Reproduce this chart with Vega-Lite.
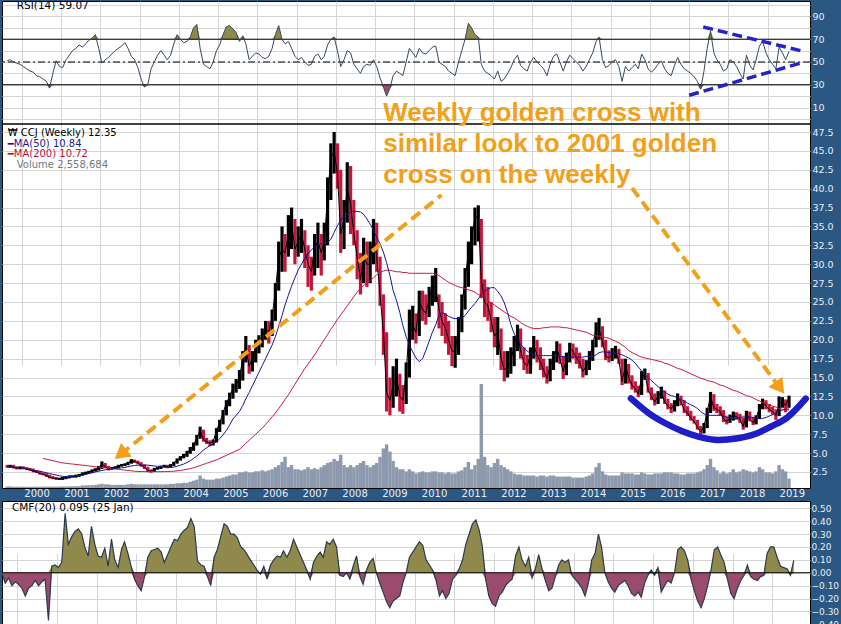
{
"$schema": "https://vega.github.io/schema/vega-lite/v6.json",
"padding": 0,
"background": "#2b5783",
"spacing": 13,
"bounds": "flush",
"config": {
  "view": {"fill": "#ffffff", "stroke": "#000000", "strokeWidth": 1},
  "axis": {"domain": false, "ticks": false, "gridColor": "#d5d5d5", "gridWidth": 1, "labelFont": "DejaVu Sans", "labelFontSize": 9.5, "labelColor": "#e9eef5"},
  "text": {"font": "DejaVu Sans"}
},
"datasets": {
"m": [
{"d":"1999-02-15","o":3.3,"c":3.2,"h":3.45,"l":3.05,"ma50":3.2,"vol":1.5,"rsi":51,"cmf":-0.01},
{"d":"1999-03-15","o":3.2,"c":3.3,"h":3.45,"l":3.05,"ma50":3.2,"vol":1.5,"rsi":52,"cmf":-0.08},
{"d":"1999-04-15","o":3.3,"c":3.1,"h":3.45,"l":2.95,"ma50":3.15,"vol":1.3,"rsi":50,"cmf":-0.04},
{"d":"1999-05-15","o":3.1,"c":3.0,"h":3.25,"l":2.85,"ma50":3.1,"vol":1.3,"rsi":49,"cmf":-0.1},
{"d":"1999-06-15","o":3.0,"c":3.1,"h":3.25,"l":2.85,"ma50":3.05,"vol":1.2,"rsi":48,"cmf":-0.07},
{"d":"1999-07-15","o":3.1,"c":3.0,"h":3.25,"l":2.85,"ma50":3.0,"vol":1.2,"rsi":46,"cmf":-0.09},
{"d":"1999-08-15","o":3.0,"c":2.9,"h":3.15,"l":2.75,"ma50":2.95,"vol":1.2,"rsi":44,"cmf":-0.12},
{"d":"1999-09-15","o":2.9,"c":2.8,"h":3.05,"l":2.65,"ma50":2.85,"vol":1.2,"rsi":42,"cmf":-0.18},
{"d":"1999-10-15","o":2.8,"c":2.6,"h":2.95,"l":2.45,"ma50":2.75,"vol":1.2,"rsi":41,"cmf":-0.12},
{"d":"1999-11-15","o":2.6,"c":2.5,"h":2.75,"l":2.35,"ma50":2.65,"vol":1.2,"rsi":38,"cmf":-0.1},
{"d":"1999-12-15","o":2.5,"c":2.3,"h":2.65,"l":2.15,"ma50":2.6,"vol":1.3,"rsi":37,"cmf":-0.06},
{"d":"2000-01-15","o":2.3,"c":2.2,"h":2.45,"l":2.05,"ma50":2.5,"ma200":4.3,"vol":1.3,"rsi":35,"cmf":-0.1},
{"d":"2000-02-15","o":2.2,"c":2.0,"h":2.35,"l":1.85,"ma50":2.4,"ma200":4.2,"vol":1.3,"rsi":33,"cmf":-0.07},
{"d":"2000-03-15","o":2.0,"c":1.8,"h":2.15,"l":1.65,"ma50":2.3,"ma200":4.1,"vol":1.3,"rsi":27,"cmf":-0.05},
{"d":"2000-04-15","o":1.8,"c":1.7,"h":1.95,"l":1.55,"ma50":2.2,"ma200":4.0,"vol":1.4,"rsi":40,"cmf":-0.37},
{"d":"2000-05-15","o":1.7,"c":1.6,"h":1.85,"l":1.45,"ma50":2.1,"ma200":3.9,"vol":1.4,"rsi":51,"cmf":0.05},
{"d":"2000-06-15","o":1.6,"c":1.6,"h":1.75,"l":1.45,"ma50":2.0,"ma200":3.8,"vol":1.4,"rsi":46,"cmf":0.06},
{"d":"2000-07-15","o":1.6,"c":1.7,"h":1.85,"l":1.45,"ma50":1.92,"ma200":3.7,"vol":1.5,"rsi":45,"cmf":0.04},
{"d":"2000-08-15","o":1.7,"c":1.8,"h":1.95,"l":1.55,"ma50":1.9,"ma200":3.65,"vol":1.5,"rsi":52,"cmf":0.08},
{"d":"2000-09-15","o":1.8,"c":1.9,"h":2.05,"l":1.65,"ma50":1.92,"ma200":3.6,"vol":1.6,"rsi":56,"cmf":0.46},
{"d":"2000-10-15","o":1.9,"c":1.9,"h":2.05,"l":1.75,"ma50":1.95,"ma200":3.55,"vol":1.6,"rsi":60,"cmf":0.22},
{"d":"2000-11-15","o":1.9,"c":2.0,"h":2.15,"l":1.75,"ma50":2.0,"ma200":3.5,"vol":1.7,"rsi":62,"cmf":0.28},
{"d":"2000-12-15","o":2.0,"c":2.1,"h":2.25,"l":1.85,"ma50":2.05,"ma200":3.45,"vol":1.8,"rsi":65,"cmf":0.32},
{"d":"2001-01-15","o":2.1,"c":2.3,"h":2.45,"l":2.0,"ma50":2.1,"ma200":3.4,"vol":2.5,"rsi":63,"cmf":0.34},
{"d":"2001-02-15","o":2.3,"c":2.4,"h":2.55,"l":2.15,"ma50":2.2,"ma200":3.35,"vol":2.5,"rsi":66,"cmf":0.3},
{"d":"2001-03-15","o":2.4,"c":2.5,"h":2.65,"l":2.25,"ma50":2.3,"ma200":3.3,"vol":2.6,"rsi":69,"cmf":0.2},
{"d":"2001-04-15","o":2.5,"c":2.7,"h":2.85,"l":2.35,"ma50":2.4,"ma200":3.25,"vol":2.8,"rsi":71,"cmf":0.13},
{"d":"2001-05-15","o":2.7,"c":2.8,"h":3.0,"l":2.55,"ma50":2.5,"ma200":3.2,"vol":3,"rsi":74,"cmf":0.36},
{"d":"2001-06-15","o":2.8,"c":3.0,"h":3.3,"l":2.7,"ma50":2.6,"ma200":3.15,"vol":3.5,"rsi":62,"cmf":0.22},
{"d":"2001-07-15","o":3.0,"c":3.6,"h":3.9,"l":2.9,"ma50":2.7,"ma200":3.1,"vol":4,"rsi":49,"cmf":0.13},
{"d":"2001-08-15","o":3.6,"c":3.2,"h":3.7,"l":3.0,"ma50":2.78,"ma200":3.05,"vol":3.5,"rsi":52,"cmf":0.12},
{"d":"2001-09-15","o":3.2,"c":2.9,"h":3.3,"l":2.7,"ma50":2.85,"ma200":3.0,"vol":3.5,"rsi":54,"cmf":0.19},
{"d":"2001-10-15","o":2.9,"c":3.0,"h":3.15,"l":2.8,"ma50":2.9,"ma200":2.95,"vol":3,"rsi":57,"cmf":0.05},
{"d":"2001-11-15","o":3.0,"c":3.1,"h":3.25,"l":2.9,"ma50":2.95,"ma200":2.9,"vol":3,"rsi":60,"cmf":0.26},
{"d":"2001-12-15","o":3.1,"c":3.3,"h":3.45,"l":3.0,"ma50":3.0,"ma200":2.85,"vol":3,"rsi":62,"cmf":0.1},
{"d":"2002-01-15","o":3.3,"c":3.4,"h":3.55,"l":3.2,"ma50":3.05,"ma200":2.8,"vol":3,"rsi":64,"cmf":0.04},
{"d":"2002-02-15","o":3.4,"c":3.5,"h":3.65,"l":3.3,"ma50":3.1,"ma200":2.75,"vol":3,"rsi":67,"cmf":0.18},
{"d":"2002-03-15","o":3.5,"c":3.7,"h":3.85,"l":3.4,"ma50":3.2,"ma200":2.7,"vol":3.5,"rsi":62,"cmf":0.24},
{"d":"2002-04-15","o":3.7,"c":4.0,"h":4.2,"l":3.6,"ma50":3.3,"ma200":2.65,"vol":4,"rsi":55,"cmf":0.15},
{"d":"2002-05-15","o":4.0,"c":3.9,"h":4.15,"l":3.7,"ma50":3.35,"ma200":2.6,"vol":3.5,"rsi":52,"cmf":0.05},
{"d":"2002-06-15","o":3.9,"c":3.7,"h":4.0,"l":3.5,"ma50":3.4,"ma200":2.58,"vol":3.5,"rsi":45,"cmf":-0.05},
{"d":"2002-07-15","o":3.7,"c":3.4,"h":3.8,"l":3.2,"ma50":3.42,"ma200":2.56,"vol":3.5,"rsi":35,"cmf":-0.1},
{"d":"2002-08-15","o":3.4,"c":3.1,"h":3.5,"l":2.9,"ma50":3.42,"ma200":2.55,"vol":3.5,"rsi":28,"cmf":-0.14},
{"d":"2002-09-15","o":3.1,"c":2.7,"h":3.2,"l":2.5,"ma50":3.4,"ma200":2.54,"vol":3.5,"rsi":30,"cmf":-0.03},
{"d":"2002-10-15","o":2.7,"c":2.6,"h":2.85,"l":2.4,"ma50":3.35,"ma200":2.54,"vol":3.5,"rsi":44,"cmf":0.12},
{"d":"2002-11-15","o":2.6,"c":2.9,"h":3.05,"l":2.5,"ma50":3.3,"ma200":2.54,"vol":3.5,"rsi":50,"cmf":0.17},
{"d":"2002-12-15","o":2.9,"c":3.0,"h":3.15,"l":2.8,"ma50":3.25,"ma200":2.54,"vol":3.5,"rsi":56,"cmf":0.18},
{"d":"2003-01-15","o":3.0,"c":3.2,"h":3.35,"l":2.9,"ma50":3.2,"ma200":2.54,"vol":3.5,"rsi":60,"cmf":0.19},
{"d":"2003-02-15","o":3.2,"c":3.3,"h":3.45,"l":3.1,"ma50":3.15,"ma200":2.55,"vol":3.5,"rsi":56,"cmf":0.16},
{"d":"2003-03-15","o":3.3,"c":3.2,"h":3.45,"l":3.0,"ma50":3.1,"ma200":2.56,"vol":3.5,"rsi":52,"cmf":0.08},
{"d":"2003-04-15","o":3.2,"c":3.4,"h":3.55,"l":3.1,"ma50":3.1,"ma200":2.58,"vol":4,"rsi":56,"cmf":0.14},
{"d":"2003-05-15","o":3.4,"c":3.7,"h":3.85,"l":3.3,"ma50":3.15,"ma200":2.6,"vol":4,"rsi":66,"cmf":0.2},
{"d":"2003-06-15","o":3.7,"c":4.1,"h":4.3,"l":3.6,"ma50":3.25,"ma200":2.65,"vol":4.5,"rsi":74,"cmf":0.26},
{"d":"2003-07-15","o":4.1,"c":4.4,"h":4.6,"l":4.0,"ma50":3.4,"ma200":2.7,"vol":4.5,"rsi":70,"cmf":0.25},
{"d":"2003-08-15","o":4.4,"c":4.7,"h":4.9,"l":4.3,"ma50":3.55,"ma200":2.78,"vol":5,"rsi":67,"cmf":0.3},
{"d":"2003-09-15","o":4.7,"c":5.0,"h":5.3,"l":4.5,"ma50":3.75,"ma200":2.86,"vol":5,"rsi":68,"cmf":0.33},
{"d":"2003-10-15","o":5.0,"c":5.5,"h":5.8,"l":4.9,"ma50":4.0,"ma200":2.95,"vol":6,"rsi":72,"cmf":0.35},
{"d":"2003-11-15","o":5.5,"c":6.1,"h":6.4,"l":5.3,"ma50":4.3,"ma200":3.05,"vol":7,"rsi":80,"cmf":0.42},
{"d":"2003-12-15","o":6.1,"c":7.0,"h":7.4,"l":6.0,"ma50":4.6,"ma200":3.2,"vol":8,"rsi":83,"cmf":0.36},
{"d":"2004-01-15","o":7.0,"c":8.0,"h":8.5,"l":6.9,"ma50":5.0,"ma200":3.35,"vol":12,"rsi":62,"cmf":0.09},
{"d":"2004-02-15","o":8.0,"c":6.8,"h":8.1,"l":6.5,"ma50":5.4,"ma200":3.5,"vol":9,"rsi":48,"cmf":0.06},
{"d":"2004-03-15","o":6.8,"c":6.5,"h":7.0,"l":6.2,"ma50":5.7,"ma200":3.65,"vol":8,"rsi":46,"cmf":0.05},
{"d":"2004-04-15","o":6.5,"c":6.3,"h":6.7,"l":5.9,"ma50":6.0,"ma200":3.8,"vol":8,"rsi":44,"cmf":-0.03},
{"d":"2004-05-15","o":6.3,"c":6.5,"h":6.8,"l":6.0,"ma50":6.2,"ma200":3.95,"vol":8,"rsi":50,"cmf":-0.1},
{"d":"2004-06-15","o":6.5,"c":8.0,"h":8.3,"l":6.4,"ma50":6.5,"ma200":4.1,"vol":9,"rsi":60,"cmf":0.12},
{"d":"2004-07-15","o":8.0,"c":9.0,"h":9.4,"l":7.8,"ma50":6.9,"ma200":4.3,"vol":9,"rsi":65,"cmf":0.18},
{"d":"2004-08-15","o":9.0,"c":10.3,"h":10.7,"l":8.8,"ma50":7.4,"ma200":4.5,"vol":10,"rsi":74,"cmf":0.28},
{"d":"2004-09-15","o":10.3,"c":11.6,"h":12.0,"l":10.0,"ma50":8.0,"ma200":4.7,"vol":11,"rsi":81,"cmf":0.38},
{"d":"2004-10-15","o":11.6,"c":12.5,"h":13.0,"l":11.2,"ma50":8.7,"ma200":4.9,"vol":12,"rsi":82,"cmf":0.36},
{"d":"2004-11-15","o":12.5,"c":13.5,"h":14.2,"l":12.2,"ma50":9.5,"ma200":5.1,"vol":13,"rsi":79,"cmf":0.3},
{"d":"2004-12-15","o":13.5,"c":14.0,"h":14.8,"l":13.0,"ma50":10.0,"ma200":5.3,"vol":13,"rsi":76,"cmf":0.3},
{"d":"2005-01-15","o":14.0,"c":15.0,"h":16.0,"l":13.5,"ma50":10.5,"ma200":5.5,"vol":15,"rsi":68,"cmf":0.27},
{"d":"2005-02-15","o":15.0,"c":17.5,"h":18.5,"l":14.6,"ma50":11.3,"ma200":5.9,"vol":15,"rsi":73,"cmf":0.2},
{"d":"2005-03-15","o":17.5,"c":19.0,"h":20.5,"l":17.0,"ma50":12.2,"ma200":6.3,"vol":16,"rsi":66,"cmf":0.18},
{"d":"2005-04-15","o":19.0,"c":16.5,"h":19.3,"l":15.5,"ma50":13.0,"ma200":6.7,"vol":15,"rsi":52,"cmf":0.14},
{"d":"2005-05-15","o":16.5,"c":17.5,"h":18.5,"l":15.8,"ma50":13.9,"ma200":7.1,"vol":15,"rsi":55,"cmf":0.1},
{"d":"2005-06-15","o":17.5,"c":19.0,"h":20.0,"l":17.0,"ma50":14.8,"ma200":7.5,"vol":16,"rsi":58,"cmf":0.06},
{"d":"2005-07-15","o":19.0,"c":19.5,"h":20.6,"l":18.2,"ma50":15.7,"ma200":7.9,"vol":16,"rsi":57,"cmf":0.02},
{"d":"2005-08-15","o":19.5,"c":20.5,"h":21.5,"l":19.0,"ma50":16.6,"ma200":8.3,"vol":17,"rsi":54,"cmf":-0.01},
{"d":"2005-09-15","o":20.5,"c":21.5,"h":22.5,"l":20.0,"ma50":17.5,"ma200":8.8,"vol":16,"rsi":53,"cmf":0.05},
{"d":"2005-10-15","o":21.5,"c":21.0,"h":22.5,"l":19.5,"ma50":18.4,"ma200":9.3,"vol":17,"rsi":55,"cmf":-0.05},
{"d":"2005-11-15","o":21.0,"c":23.0,"h":24.0,"l":20.5,"ma50":19.3,"ma200":9.8,"vol":18,"rsi":62,"cmf":0.06},
{"d":"2005-12-15","o":23.0,"c":26.5,"h":27.5,"l":22.5,"ma50":20.4,"ma200":10.3,"vol":20,"rsi":74,"cmf":0.1},
{"d":"2006-01-15","o":26.5,"c":30.8,"h":33,"l":26.5,"ma50":21.8,"ma200":10.9,"vol":22,"rsi":82,"cmf":0.13},
{"d":"2006-02-15","o":30.8,"c":32,"h":35,"l":29,"ma50":23.2,"ma200":11.5,"vol":25,"rsi":70,"cmf":0.12},
{"d":"2006-03-15","o":32,"c":31.5,"h":34,"l":29,"ma50":24.6,"ma200":12.1,"vol":30,"rsi":66,"cmf":0.17},
{"d":"2006-04-15","o":31.5,"c":34,"h":36.5,"l":31,"ma50":25.9,"ma200":12.7,"vol":20,"rsi":68,"cmf":0.12},
{"d":"2006-05-15","o":34,"c":35.5,"h":37.5,"l":32,"ma50":27.1,"ma200":13.4,"vol":22,"rsi":62,"cmf":0.17},
{"d":"2006-06-15","o":35.5,"c":32,"h":36,"l":30,"ma50":28.2,"ma200":14.1,"vol":18,"rsi":55,"cmf":0.26},
{"d":"2006-07-15","o":32,"c":33,"h":35,"l":31,"ma50":29.2,"ma200":14.8,"vol":18,"rsi":52,"cmf":0.2},
{"d":"2006-08-15","o":33,"c":34,"h":36,"l":31.5,"ma50":30.0,"ma200":15.5,"vol":17,"rsi":54,"cmf":0.14},
{"d":"2006-09-15","o":34,"c":32,"h":34.5,"l":29.5,"ma50":30.8,"ma200":16.2,"vol":18,"rsi":50,"cmf":0.08},
{"d":"2006-10-15","o":32,"c":30,"h":32.5,"l":27,"ma50":31.4,"ma200":16.8,"vol":20,"rsi":47,"cmf":0.02},
{"d":"2006-11-15","o":30,"c":29,"h":31,"l":26.5,"ma50":31.9,"ma200":17.4,"vol":18,"rsi":48,"cmf":-0.05},
{"d":"2006-12-15","o":29,"c":32,"h":34,"l":28.5,"ma50":32.3,"ma200":18.0,"vol":19,"rsi":55,"cmf":0.08},
{"d":"2007-01-15","o":32,"c":33,"h":35.5,"l":29.5,"ma50":32.6,"ma200":18.7,"vol":18,"rsi":57,"cmf":0.13},
{"d":"2007-02-15","o":33,"c":31.5,"h":34,"l":28.5,"ma50":32.7,"ma200":19.4,"vol":20,"rsi":52,"cmf":0.16},
{"d":"2007-03-15","o":31.5,"c":33,"h":35.5,"l":30.5,"ma50":32.8,"ma200":20.0,"vol":22,"rsi":55,"cmf":0.12},
{"d":"2007-04-15","o":33,"c":39,"h":41.5,"l":32.5,"ma50":32.9,"ma200":20.7,"vol":24,"rsi":65,"cmf":0.24},
{"d":"2007-05-15","o":39,"c":44,"h":46,"l":38.5,"ma50":33.3,"ma200":21.4,"vol":25,"rsi":70,"cmf":0.22},
{"d":"2007-06-15","o":44,"c":45,"h":47.5,"l":42,"ma50":34.2,"ma200":22.0,"vol":28,"rsi":72,"cmf":0.26},
{"d":"2007-07-15","o":45,"c":42,"h":46,"l":40,"ma50":35.1,"ma200":22.7,"vol":26,"rsi":60,"cmf":0.2},
{"d":"2007-08-15","o":42,"c":34,"h":42.5,"l":31.5,"ma50":35.8,"ma200":23.3,"vol":32,"rsi":46,"cmf":-0.02},
{"d":"2007-09-15","o":34,"c":36,"h":38.5,"l":32,"ma50":36.3,"ma200":23.9,"vol":22,"rsi":52,"cmf":-0.03},
{"d":"2007-10-15","o":36,"c":40,"h":43.5,"l":35.5,"ma50":36.7,"ma200":24.5,"vol":20,"rsi":60,"cmf":0.0},
{"d":"2007-11-15","o":40,"c":38,"h":43,"l":34,"ma50":36.9,"ma200":25.1,"vol":22,"rsi":58,"cmf":-0.05},
{"d":"2007-12-15","o":38,"c":34,"h":38.5,"l":32.5,"ma50":37.0,"ma200":25.7,"vol":20,"rsi":48,"cmf":0.05},
{"d":"2008-01-15","o":34,"c":31,"h":34.5,"l":28,"ma50":37.0,"ma200":26.3,"vol":22,"rsi":44,"cmf":0.13},
{"d":"2008-02-15","o":31,"c":28,"h":31.5,"l":26,"ma50":36.9,"ma200":26.8,"vol":24,"rsi":40,"cmf":-0.03},
{"d":"2008-03-15","o":28,"c":31,"h":33.5,"l":27.5,"ma50":36.6,"ma200":27.2,"vol":26,"rsi":46,"cmf":-0.09},
{"d":"2008-04-15","o":31,"c":30,"h":33,"l":27,"ma50":36.0,"ma200":27.5,"vol":22,"rsi":48,"cmf":0.02},
{"d":"2008-05-15","o":30,"c":30,"h":33,"l":27.5,"ma50":35.3,"ma200":27.8,"vol":20,"rsi":47,"cmf":0.08},
{"d":"2008-06-15","o":30,"c":34,"h":36,"l":30,"ma50":34.5,"ma200":28.2,"vol":22,"rsi":52,"cmf":0.11},
{"d":"2008-07-15","o":34,"c":31,"h":35.5,"l":29,"ma50":33.6,"ma200":28.6,"vol":24,"rsi":46,"cmf":0.0},
{"d":"2008-08-15","o":31,"c":26,"h":31,"l":24.5,"ma50":32.7,"ma200":28.9,"vol":30,"rsi":36,"cmf":-0.08},
{"d":"2008-09-15","o":26,"c":21,"h":26,"l":18,"ma50":31.6,"ma200":29.1,"vol":38,"rsi":28,"cmf":-0.15},
{"d":"2008-10-15","o":21,"c":13,"h":21,"l":10.5,"ma50":30.2,"ma200":29.2,"vol":42,"rsi":20,"cmf":-0.22},
{"d":"2008-11-15","o":13,"c":12,"h":15,"l":10,"ma50":28.5,"ma200":29.2,"vol":35,"rsi":27,"cmf":-0.27},
{"d":"2008-12-15","o":12,"c":14,"h":16.5,"l":11,"ma50":26.5,"ma200":29.1,"vol":26,"rsi":38,"cmf":-0.22},
{"d":"2009-01-15","o":14,"c":15,"h":17.5,"l":12.5,"ma50":25.2,"ma200":29.0,"vol":20,"rsi":42,"cmf":-0.2},
{"d":"2009-02-15","o":15,"c":12.5,"h":15.5,"l":10.5,"ma50":23.6,"ma200":29.0,"vol":18,"rsi":40,"cmf":-0.18},
{"d":"2009-03-15","o":12.5,"c":12,"h":14,"l":10.2,"ma50":21.9,"ma200":28.9,"vol":18,"rsi":38,"cmf":-0.08},
{"d":"2009-04-15","o":12,"c":15.5,"h":17,"l":11.5,"ma50":20.4,"ma200":28.9,"vol":16,"rsi":50,"cmf":0.0},
{"d":"2009-05-15","o":15.5,"c":22,"h":24,"l":15,"ma50":19.3,"ma200":28.8,"vol":18,"rsi":62,"cmf":0.12},
{"d":"2009-06-15","o":22,"c":22,"h":24.5,"l":20,"ma50":18.4,"ma200":28.8,"vol":16,"rsi":58,"cmf":0.16},
{"d":"2009-07-15","o":22,"c":21,"h":23.5,"l":19.5,"ma50":17.6,"ma200":28.8,"vol":14,"rsi":54,"cmf":0.2},
{"d":"2009-08-15","o":21,"c":25,"h":26.5,"l":20.5,"ma50":17.1,"ma200":28.8,"vol":15,"rsi":62,"cmf":0.24},
{"d":"2009-09-15","o":25,"c":24,"h":26.5,"l":22.5,"ma50":17.5,"ma200":28.8,"vol":16,"rsi":58,"cmf":0.21},
{"d":"2009-10-15","o":24,"c":23.5,"h":26,"l":22,"ma50":18.6,"ma200":28.8,"vol":15,"rsi":57,"cmf":0.1},
{"d":"2009-11-15","o":23.5,"c":25.5,"h":27,"l":23,"ma50":19.8,"ma200":28.8,"vol":15,"rsi":60,"cmf":0.06},
{"d":"2009-12-15","o":25.5,"c":27,"h":28.5,"l":24.5,"ma50":21.0,"ma200":28.8,"vol":16,"rsi":63,"cmf":0.02},
{"d":"2010-01-15","o":27,"c":27,"h":29.5,"l":25,"ma50":22.0,"ma200":28.7,"vol":16,"rsi":64,"cmf":-0.06},
{"d":"2010-02-15","o":27,"c":24,"h":26,"l":21.5,"ma50":23.2,"ma200":28.5,"vol":15,"rsi":50,"cmf":-0.18},
{"d":"2010-03-15","o":24,"c":22.5,"h":25,"l":20.5,"ma50":23.6,"ma200":28.2,"vol":15,"rsi":48,"cmf":-0.14},
{"d":"2010-04-15","o":22.5,"c":21.5,"h":23.5,"l":19.5,"ma50":23.4,"ma200":27.9,"vol":14,"rsi":46,"cmf":-0.2},
{"d":"2010-05-15","o":21.5,"c":20,"h":22.5,"l":18,"ma50":23.1,"ma200":27.6,"vol":15,"rsi":42,"cmf":-0.16},
{"d":"2010-06-15","o":20,"c":18.5,"h":20.5,"l":16.5,"ma50":22.9,"ma200":27.4,"vol":14,"rsi":40,"cmf":-0.05},
{"d":"2010-07-15","o":18.5,"c":18.5,"h":20.5,"l":16.3,"ma50":22.8,"ma200":27.2,"vol":14,"rsi":38,"cmf":-0.02},
{"d":"2010-08-15","o":18.5,"c":21.5,"h":23,"l":18,"ma50":22.8,"ma200":27.0,"vol":16,"rsi":50,"cmf":0.03},
{"d":"2010-09-15","o":21.5,"c":24.5,"h":26,"l":21,"ma50":22.9,"ma200":26.9,"vol":17,"rsi":60,"cmf":0.1},
{"d":"2010-10-15","o":24.5,"c":28,"h":29.5,"l":24,"ma50":23.2,"ma200":26.8,"vol":20,"rsi":70,"cmf":0.22},
{"d":"2010-11-15","o":28,"c":31.5,"h":33,"l":27,"ma50":23.8,"ma200":26.6,"vol":25,"rsi":84,"cmf":0.3},
{"d":"2010-12-15","o":31.5,"c":33.5,"h":35,"l":30,"ma50":24.3,"ma200":26.5,"vol":18,"rsi":80,"cmf":0.38},
{"d":"2011-01-15","o":33.5,"c":36,"h":37.5,"l":32.5,"ma50":24.8,"ma200":26.3,"vol":22,"rsi":74,"cmf":0.41},
{"d":"2011-02-15","o":36,"c":36.5,"h":37.8,"l":33,"ma50":25.4,"ma200":26.0,"vol":28,"rsi":72,"cmf":0.33},
{"d":"2011-03-15","o":36.5,"c":28,"h":36,"l":25.5,"ma50":26.0,"ma200":25.8,"vol":100,"rsi":48,"cmf":0.21},
{"d":"2011-04-15","o":28,"c":25,"h":28,"l":23,"ma50":26.4,"ma200":25.5,"vol":30,"rsi":42,"cmf":-0.05},
{"d":"2011-05-15","o":25,"c":24.5,"h":27,"l":22.5,"ma50":26.7,"ma200":25.2,"vol":22,"rsi":40,"cmf":-0.18},
{"d":"2011-06-15","o":24.5,"c":22.5,"h":25,"l":21,"ma50":26.9,"ma200":24.9,"vol":20,"rsi":38,"cmf":-0.24},
{"d":"2011-07-15","o":22.5,"c":20.5,"h":23,"l":19,"ma50":26.9,"ma200":24.6,"vol":24,"rsi":35,"cmf":-0.26},
{"d":"2011-08-15","o":20.5,"c":21,"h":23,"l":18,"ma50":26.4,"ma200":24.3,"vol":28,"rsi":42,"cmf":-0.18},
{"d":"2011-09-15","o":21,"c":17.6,"h":21.5,"l":16,"ma50":25.8,"ma200":24.0,"vol":22,"rsi":33,"cmf":-0.15},
{"d":"2011-10-15","o":17.6,"c":16,"h":18.5,"l":14.5,"ma50":24.9,"ma200":23.7,"vol":20,"rsi":35,"cmf":-0.1},
{"d":"2011-11-15","o":16,"c":16.5,"h":18.5,"l":15,"ma50":23.6,"ma200":23.4,"vol":18,"rsi":40,"cmf":-0.07},
{"d":"2011-12-15","o":16.5,"c":17,"h":19,"l":15.5,"ma50":22.0,"ma200":23.1,"vol":16,"rsi":45,"cmf":-0.05},
{"d":"2012-01-15","o":17,"c":19.5,"h":20.5,"l":16.5,"ma50":20.8,"ma200":22.9,"vol":14,"rsi":52,"cmf":0.13},
{"d":"2012-02-15","o":19.5,"c":21,"h":22,"l":18.5,"ma50":20.0,"ma200":22.6,"vol":13,"rsi":56,"cmf":0.2},
{"d":"2012-03-15","o":21,"c":18.5,"h":21.5,"l":17.5,"ma50":19.4,"ma200":22.3,"vol":13,"rsi":47,"cmf":0.1},
{"d":"2012-04-15","o":18.5,"c":17,"h":19,"l":16,"ma50":18.9,"ma200":22.0,"vol":12,"rsi":44,"cmf":0.05},
{"d":"2012-05-15","o":17,"c":16.5,"h":18,"l":15.5,"ma50":18.5,"ma200":21.8,"vol":12,"rsi":42,"cmf":0.12},
{"d":"2012-06-15","o":16.5,"c":18,"h":19,"l":15.5,"ma50":18.2,"ma200":21.6,"vol":12,"rsi":50,"cmf":-0.04},
{"d":"2012-07-15","o":18,"c":19.3,"h":20.5,"l":17.5,"ma50":18.0,"ma200":21.5,"vol":12,"rsi":54,"cmf":0.03},
{"d":"2012-08-15","o":19.3,"c":18,"h":20,"l":17,"ma50":17.9,"ma200":21.5,"vol":11,"rsi":50,"cmf":0.14},
{"d":"2012-09-15","o":18,"c":17,"h":19,"l":16,"ma50":17.9,"ma200":21.5,"vol":12,"rsi":47,"cmf":0.03},
{"d":"2012-10-15","o":17,"c":16,"h":17.5,"l":15,"ma50":17.9,"ma200":21.6,"vol":12,"rsi":44,"cmf":-0.06},
{"d":"2012-11-15","o":16,"c":14.9,"h":16.5,"l":14.2,"ma50":17.9,"ma200":21.6,"vol":11,"rsi":38,"cmf":-0.14},
{"d":"2012-12-15","o":14.9,"c":16.5,"h":17.5,"l":14.5,"ma50":17.9,"ma200":21.7,"vol":12,"rsi":48,"cmf":-0.12},
{"d":"2013-01-15","o":16.5,"c":17.6,"h":18.5,"l":16,"ma50":17.9,"ma200":21.7,"vol":12,"rsi":55,"cmf":-0.03},
{"d":"2013-02-15","o":17.6,"c":18.9,"h":19.8,"l":17,"ma50":17.9,"ma200":21.7,"vol":11,"rsi":57,"cmf":0.06},
{"d":"2013-03-15","o":18.9,"c":17.5,"h":19.5,"l":16.8,"ma50":17.8,"ma200":21.7,"vol":11,"rsi":50,"cmf":0.1},
{"d":"2013-04-15","o":17.5,"c":15.8,"h":17.8,"l":14.8,"ma50":17.8,"ma200":21.6,"vol":11,"rsi":42,"cmf":0.08},
{"d":"2013-05-15","o":15.8,"c":17.5,"h":18.3,"l":15.3,"ma50":17.7,"ma200":21.6,"vol":11,"rsi":50,"cmf":0.1},
{"d":"2013-06-15","o":17.5,"c":18.9,"h":19.6,"l":17,"ma50":17.7,"ma200":21.5,"vol":11,"rsi":56,"cmf":-0.02},
{"d":"2013-07-15","o":18.9,"c":18.5,"h":19.5,"l":17.5,"ma50":17.7,"ma200":21.4,"vol":10,"rsi":53,"cmf":-0.05},
{"d":"2013-08-15","o":18.5,"c":17.6,"h":19,"l":16.8,"ma50":17.7,"ma200":21.3,"vol":10,"rsi":50,"cmf":-0.08},
{"d":"2013-09-15","o":17.6,"c":17,"h":18.3,"l":16.2,"ma50":17.7,"ma200":21.2,"vol":10,"rsi":47,"cmf":-0.12},
{"d":"2013-10-15","o":17,"c":15.8,"h":17.5,"l":15,"ma50":17.7,"ma200":21.1,"vol":10,"rsi":42,"cmf":-0.18},
{"d":"2013-11-15","o":15.8,"c":16.5,"h":17.3,"l":15.3,"ma50":17.8,"ma200":21.0,"vol":11,"rsi":46,"cmf":-0.08},
{"d":"2013-12-15","o":16.5,"c":17.6,"h":18.5,"l":16,"ma50":17.8,"ma200":20.8,"vol":12,"rsi":52,"cmf":0.1},
{"d":"2014-01-15","o":17.6,"c":19.3,"h":20,"l":17.2,"ma50":17.8,"ma200":20.6,"vol":14,"rsi":58,"cmf":0.15},
{"d":"2014-02-15","o":19.3,"c":21.5,"h":22.3,"l":19,"ma50":18.0,"ma200":20.5,"vol":20,"rsi":68,"cmf":0.3},
{"d":"2014-03-15","o":21.5,"c":21.5,"h":22.9,"l":20,"ma50":18.3,"ma200":20.5,"vol":24,"rsi":72,"cmf":0.2},
{"d":"2014-04-15","o":21.5,"c":19.7,"h":21.8,"l":19,"ma50":18.4,"ma200":20.4,"vol":16,"rsi":52,"cmf":0.0},
{"d":"2014-05-15","o":19.7,"c":17.8,"h":20,"l":17.3,"ma50":18.4,"ma200":20.3,"vol":13,"rsi":45,"cmf":-0.07},
{"d":"2014-06-15","o":17.8,"c":17.6,"h":18.6,"l":17,"ma50":18.3,"ma200":20.2,"vol":12,"rsi":47,"cmf":-0.12},
{"d":"2014-07-15","o":17.6,"c":18,"h":18.9,"l":17.2,"ma50":18.3,"ma200":20.0,"vol":12,"rsi":50,"cmf":-0.15},
{"d":"2014-08-15","o":18,"c":18.4,"h":19.2,"l":17.5,"ma50":18.2,"ma200":19.8,"vol":12,"rsi":52,"cmf":-0.1},
{"d":"2014-09-15","o":18.4,"c":17.3,"h":18.8,"l":16.8,"ma50":18.2,"ma200":19.6,"vol":12,"rsi":46,"cmf":-0.08},
{"d":"2014-10-15","o":17.3,"c":14.5,"h":17.5,"l":14,"ma50":18.0,"ma200":19.3,"vol":15,"rsi":33,"cmf":-0.06},
{"d":"2014-11-15","o":14.5,"c":16.5,"h":17.5,"l":14.2,"ma50":17.8,"ma200":19.0,"vol":14,"rsi":46,"cmf":-0.1},
{"d":"2014-12-15","o":16.5,"c":15,"h":16.8,"l":14.2,"ma50":17.6,"ma200":18.6,"vol":14,"rsi":42,"cmf":-0.16},
{"d":"2015-01-15","o":15,"c":14,"h":15.3,"l":13.4,"ma50":17.3,"ma200":18.3,"vol":14,"rsi":45,"cmf":-0.18},
{"d":"2015-02-15","o":14,"c":13.5,"h":14.5,"l":13,"ma50":16.9,"ma200":18.1,"vol":13,"rsi":48,"cmf":-0.15},
{"d":"2015-03-15","o":13.5,"c":12.8,"h":13.9,"l":12.4,"ma50":16.4,"ma200":17.9,"vol":13,"rsi":44,"cmf":-0.19},
{"d":"2015-04-15","o":12.8,"c":15,"h":15.9,"l":12.7,"ma50":15.9,"ma200":17.7,"vol":15,"rsi":57,"cmf":-0.08},
{"d":"2015-05-15","o":15,"c":15.5,"h":16.2,"l":14.7,"ma50":15.4,"ma200":17.6,"vol":14,"rsi":52,"cmf":-0.02},
{"d":"2015-06-15","o":15.5,"c":13.3,"h":15.6,"l":13,"ma50":15.0,"ma200":17.5,"vol":13,"rsi":44,"cmf":0.02},
{"d":"2015-07-15","o":13.3,"c":12.5,"h":13.7,"l":12,"ma50":14.6,"ma200":17.4,"vol":13,"rsi":41,"cmf":-0.02},
{"d":"2015-08-15","o":12.5,"c":11.8,"h":12.9,"l":11.3,"ma50":14.2,"ma200":17.3,"vol":14,"rsi":44,"cmf":0.04},
{"d":"2015-09-15","o":11.8,"c":12.5,"h":13.2,"l":11.5,"ma50":13.8,"ma200":17.2,"vol":14,"rsi":48,"cmf":-0.15},
{"d":"2015-10-15","o":12.5,"c":13.1,"h":13.8,"l":12.2,"ma50":13.4,"ma200":17.1,"vol":14,"rsi":51,"cmf":-0.1},
{"d":"2015-11-15","o":13.1,"c":11.8,"h":13.3,"l":11.5,"ma50":13.1,"ma200":16.9,"vol":15,"rsi":44,"cmf":-0.06},
{"d":"2015-12-15","o":11.8,"c":11.2,"h":12.2,"l":10.8,"ma50":12.8,"ma200":16.8,"vol":15,"rsi":40,"cmf":-0.08},
{"d":"2016-01-15","o":11.2,"c":10.9,"h":11.6,"l":10.3,"ma50":12.6,"ma200":16.6,"vol":15,"rsi":38,"cmf":0.0},
{"d":"2016-02-15","o":10.9,"c":11.5,"h":12,"l":10.5,"ma50":12.5,"ma200":16.4,"vol":14,"rsi":47,"cmf":0.18},
{"d":"2016-03-15","o":11.5,"c":12.3,"h":12.9,"l":11.2,"ma50":12.3,"ma200":16.2,"vol":14,"rsi":54,"cmf":0.2},
{"d":"2016-04-15","o":12.3,"c":11.8,"h":12.6,"l":11.3,"ma50":12.1,"ma200":16.1,"vol":13,"rsi":48,"cmf":0.17},
{"d":"2016-05-15","o":11.8,"c":10.7,"h":12,"l":10.3,"ma50":11.9,"ma200":15.9,"vol":13,"rsi":44,"cmf":0.1},
{"d":"2016-06-15","o":10.7,"c":10.3,"h":11.2,"l":9.9,"ma50":11.6,"ma200":15.7,"vol":14,"rsi":42,"cmf":-0.05},
{"d":"2016-07-15","o":10.3,"c":9.6,"h":10.6,"l":9.3,"ma50":11.4,"ma200":15.5,"vol":14,"rsi":40,"cmf":-0.14},
{"d":"2016-08-15","o":9.6,"c":9.2,"h":9.9,"l":8.9,"ma50":11.2,"ma200":15.3,"vol":14,"rsi":37,"cmf":-0.22},
{"d":"2016-09-15","o":9.2,"c":8.4,"h":9.4,"l":8.1,"ma50":10.9,"ma200":15.1,"vol":15,"rsi":33,"cmf":-0.27},
{"d":"2016-10-15","o":8.4,"c":7.8,"h":8.6,"l":7.5,"ma50":10.5,"ma200":14.9,"vol":16,"rsi":26,"cmf":-0.2},
{"d":"2016-11-15","o":7.8,"c":8.5,"h":9,"l":7.6,"ma50":10.2,"ma200":14.8,"vol":18,"rsi":42,"cmf":-0.1},
{"d":"2016-12-15","o":8.5,"c":10.5,"h":11,"l":8.3,"ma50":10.0,"ma200":14.6,"vol":22,"rsi":62,"cmf":0.02},
{"d":"2017-01-15","o":10.5,"c":12.5,"h":13.1,"l":10.3,"ma50":10.0,"ma200":14.5,"vol":28,"rsi":77,"cmf":0.18},
{"d":"2017-02-15","o":12.5,"c":11,"h":12.8,"l":10.6,"ma50":10.0,"ma200":14.4,"vol":20,"rsi":58,"cmf":0.2},
{"d":"2017-03-15","o":11,"c":10.8,"h":11.5,"l":10.3,"ma50":10.0,"ma200":14.2,"vol":17,"rsi":52,"cmf":0.14},
{"d":"2017-04-15","o":10.8,"c":10.5,"h":11.2,"l":10,"ma50":10.0,"ma200":14.0,"vol":14,"rsi":48,"cmf":0.08},
{"d":"2017-05-15","o":10.5,"c":9.5,"h":10.7,"l":9.1,"ma50":9.9,"ma200":13.9,"vol":16,"rsi":42,"cmf":-0.05},
{"d":"2017-06-15","o":9.5,"c":9.2,"h":9.8,"l":8.8,"ma50":9.8,"ma200":13.7,"vol":14,"rsi":44,"cmf":-0.16},
{"d":"2017-07-15","o":9.2,"c":9.6,"h":10.1,"l":9,"ma50":9.7,"ma200":13.5,"vol":15,"rsi":52,"cmf":-0.2},
{"d":"2017-08-15","o":9.6,"c":10,"h":10.5,"l":9.3,"ma50":9.6,"ma200":13.3,"vol":18,"rsi":50,"cmf":-0.12},
{"d":"2017-09-15","o":10,"c":9.8,"h":10.4,"l":9.4,"ma50":9.6,"ma200":13.2,"vol":15,"rsi":46,"cmf":-0.06},
{"d":"2017-10-15","o":9.8,"c":9.5,"h":10.2,"l":9,"ma50":9.7,"ma200":13.0,"vol":16,"rsi":40,"cmf":-0.02},
{"d":"2017-11-15","o":9.5,"c":8.5,"h":9.7,"l":8.1,"ma50":9.8,"ma200":12.8,"vol":18,"rsi":35,"cmf":0.06},
{"d":"2017-12-15","o":8.5,"c":10.2,"h":10.6,"l":8.4,"ma50":9.8,"ma200":12.6,"vol":17,"rsi":56,"cmf":-0.03},
{"d":"2018-01-15","o":10.2,"c":9.5,"h":10.5,"l":9.2,"ma50":9.8,"ma200":12.5,"vol":16,"rsi":47,"cmf":-0.05},
{"d":"2018-02-15","o":9.5,"c":9,"h":9.8,"l":8.7,"ma50":9.7,"ma200":12.3,"vol":15,"rsi":43,"cmf":-0.06},
{"d":"2018-03-15","o":9,"c":9.6,"h":10,"l":8.8,"ma50":9.6,"ma200":12.1,"vol":16,"rsi":52,"cmf":-0.03},
{"d":"2018-04-15","o":9.6,"c":11,"h":11.5,"l":9.5,"ma50":9.6,"ma200":11.9,"vol":20,"rsi":64,"cmf":-0.02},
{"d":"2018-05-15","o":11,"c":11.8,"h":12.2,"l":10.8,"ma50":9.6,"ma200":11.7,"vol":18,"rsi":68,"cmf":0.15},
{"d":"2018-06-15","o":11.8,"c":11.2,"h":12,"l":10.8,"ma50":9.7,"ma200":11.6,"vol":15,"rsi":58,"cmf":0.2},
{"d":"2018-07-15","o":11.2,"c":10.8,"h":11.5,"l":10.4,"ma50":9.9,"ma200":11.4,"vol":15,"rsi":52,"cmf":0.2},
{"d":"2018-08-15","o":10.8,"c":10.5,"h":11.1,"l":10.1,"ma50":10.1,"ma200":11.2,"vol":14,"rsi":48,"cmf":0.12},
{"d":"2018-09-15","o":10.5,"c":10,"h":10.8,"l":9.4,"ma50":10.3,"ma200":11.1,"vol":16,"rsi":44,"cmf":0.05},
{"d":"2018-10-15","o":10,"c":11.5,"h":12.5,"l":9.9,"ma50":10.5,"ma200":10.9,"vol":22,"rsi":63,"cmf":0.04},
{"d":"2018-11-15","o":11.5,"c":11.8,"h":12.4,"l":11,"ma50":10.7,"ma200":10.8,"vol":18,"rsi":58,"cmf":0.03},
{"d":"2018-12-15","o":11.8,"c":11.3,"h":12.1,"l":10.4,"ma50":10.8,"ma200":10.75,"vol":16,"rsi":52,"cmf":-0.02},
{"d":"2019-01-15","o":11.3,"c":12.35,"h":12.6,"l":11,"ma50":10.84,"ma200":10.72,"vol":9,"rsi":59.07,"cmf":0.095}
],
"years": [
{"d":"2000-01-01","t":"2000"},{"d":"2001-01-01","t":"2001"},{"d":"2002-01-01","t":"2002"},{"d":"2003-01-01","t":"2003"},{"d":"2004-01-01","t":"2004"},
{"d":"2005-01-01","t":"2005"},{"d":"2006-01-01","t":"2006"},{"d":"2007-01-01","t":"2007"},{"d":"2008-01-01","t":"2008"},{"d":"2009-01-01","t":"2009"},
{"d":"2010-01-01","t":"2010"},{"d":"2011-01-01","t":"2011"},{"d":"2012-01-01","t":"2012"},{"d":"2013-01-01","t":"2013"},{"d":"2014-01-01","t":"2014"},
{"d":"2015-01-01","t":"2015"},{"d":"2016-01-01","t":"2016"},{"d":"2017-01-01","t":"2017"},{"d":"2018-01-01","t":"2018"},{"d":"2019-01-01","t":"2019"}
],
"levels": [
{"panel":"rsi","level":70,"kind":"solid"},
{"panel":"rsi","level":30,"kind":"solid"},
{"panel":"rsi","level":50,"kind":"dash"},
{"panel":"sep","level":48.56,"kind":"solid"},
{"panel":"cmf","level":0,"kind":"solid"}
],
"tri": [
{"id":"upper","d":"2016-11-08","v":80.75},
{"id":"upper","d":"2019-05-16","v":59.66},
{"id":"lower","d":"2016-06-30","v":20.72},
{"id":"lower","d":"2019-05-16","v":49.37}
],
"arc": [
{"d":"2015-01-05","v":12.25},
{"d":"2015-06-22","v":10.27},
{"d":"2015-11-22","v":8.95},
{"d":"2016-04-22","v":7.92},
{"d":"2016-09-23","v":7.17},
{"d":"2017-03-26","v":6.73},
{"d":"2017-09-26","v":6.96},
{"d":"2018-02-27","v":7.49},
{"d":"2018-07-28","v":8.49},
{"d":"2018-12-29","v":9.69},
{"d":"2019-06-20","v":12.2}
],
"arrows": [
{"id":1,"d":"2010-03-10","v":39.16},
{"id":1,"d":"2002-01-05","v":4.83},
{"id":2,"d":"2015-01-16","v":40.09},
{"id":2,"d":"2018-10-22","v":13.64}
],
"heads": [
{"id":1,"d":"2002-01-05","v":4.83},
{"id":2,"d":"2018-10-22","v":13.64}
],
"notes": [
{"panel":"rsi","t":"Weekly golden cross with","d":"2008-09-14","v":-1.85},
{"panel":"main","t":"similar look to 2001 golden","d":"2008-09-14","v":44.79},
{"panel":"main","t":"cross on the weekly","d":"2008-09-14","v":40.75}
],
"labels": [
{"panel":"main","k":"price","t":"₩ CCJ (Weekly) 12.35","d":"1999-02-20","v":47.41},
{"panel":"main","k":"ma50","t":"━MA(50) 10.84","d":"1999-02-20","v":45.95},
{"panel":"main","k":"ma200","t":"━MA(200) 10.72","d":"1999-02-20","v":44.55},
{"panel":"main","k":"vol","t":"Volume 2,558,684","d":"1999-05-15","v":43.15},
{"panel":"rsi","k":"rsi","t":"RSI(14) 59.07","d":"1999-05-15","v":99.2},
{"panel":"cmf","k":"cmf","t":"CMF(20) 0.095 (25 Jan)","d":"1999-05-15","v":0.502}
]
},
"vconcat": [
{
"width": 808,
"height": 487,
"layer": [
{"data":{"name":"m"},"mark":{"type":"bar","color":"#8d99ad","width":3.4,"clip":true},
 "encoding":{"x":{"field":"d","type":"temporal","title":null,"scale":{"domain":[{"year":1999,"month":2,"date":13},{"year":2019,"month":6,"date":13}]},"axis":{"orient":"bottom","values":[{"year":1999,"month":7,"date":1},{"year":2000,"month":1,"date":1},{"year":2000,"month":7,"date":1},{"year":2001,"month":1,"date":1},{"year":2001,"month":7,"date":1},{"year":2002,"month":1,"date":1},{"year":2002,"month":7,"date":1},{"year":2003,"month":1,"date":1},{"year":2003,"month":7,"date":1},{"year":2004,"month":1,"date":1},{"year":2004,"month":7,"date":1},{"year":2005,"month":1,"date":1},{"year":2005,"month":7,"date":1},{"year":2006,"month":1,"date":1},{"year":2006,"month":7,"date":1},{"year":2007,"month":1,"date":1},{"year":2007,"month":7,"date":1},{"year":2008,"month":1,"date":1},{"year":2008,"month":7,"date":1},{"year":2009,"month":1,"date":1},{"year":2009,"month":7,"date":1},{"year":2010,"month":1,"date":1},{"year":2010,"month":7,"date":1},{"year":2011,"month":1,"date":1},{"year":2011,"month":7,"date":1},{"year":2012,"month":1,"date":1},{"year":2012,"month":7,"date":1},{"year":2013,"month":1,"date":1},{"year":2013,"month":7,"date":1},{"year":2014,"month":1,"date":1},{"year":2014,"month":7,"date":1},{"year":2015,"month":1,"date":1},{"year":2015,"month":7,"date":1},{"year":2016,"month":1,"date":1},{"year":2016,"month":7,"date":1},{"year":2017,"month":1,"date":1},{"year":2017,"month":7,"date":1},{"year":2018,"month":1,"date":1},{"year":2018,"month":7,"date":1},{"year":2019,"month":1,"date":1}],"grid":true,"labels":false,"title":null}},
 "y":{"field":"vol","type":"quantitative","scale":{"domain":[0,350],"range":[487,123],"nice":false,"zero":false},"axis":null}}},
{"data":{"name":"m"},"mark":{"type":"area","color":"#8f8a4b","clip":true},
 "encoding":{"x":{"field":"d","type":"temporal","title":null},
 "y":{"field":"rsi","type":"quantitative","scale":{"domain":[70,103.6],"range":[38.2,0],"clamp":true,"nice":false,"zero":false},"axis":null},
 "y2":{"datum":70}}},
{"data":{"name":"m"},"mark":{"type":"area","color":"#9b4b6b","clip":true},
 "encoding":{"x":{"field":"d","type":"temporal","title":null},
 "y":{"field":"rsi","type":"quantitative","scale":{"domain":[-4.5,30],"range":[123,83.7],"clamp":true,"nice":false,"zero":false},"axis":null},
 "y2":{"datum":30}}},
{"data":{"name":"levels"},"transform":[{"filter":"datum.panel == 'rsi'"}],"mark":{"type":"rule","color":"#000000","strokeWidth":1},
 "encoding":{"y":{"field":"level","type":"quantitative","scale":{"domain":[-4.5,103.6],"range":[123,0],"nice":false,"zero":false},"axis":{"orient":"right","values":[0,10,20,30,40,50,60,70,80,90,100],"labelExpr":"datum.value % 20 == 10 ? datum.label : ''","grid":true,"title":null,"labelPadding":2,"minExtent":33,"maxExtent":33}},
 "strokeDash":{"field":"kind","type":"nominal","scale":{"domain":["solid","dash"],"range":[[1,0],[7,3,2,3]]},"legend":null}}},
{"data":{"name":"levels"},"transform":[{"filter":"datum.panel == 'sep'"}],"mark":{"type":"rule","color":"#000000","strokeWidth":1.5},
 "encoding":{"y":{"field":"level","type":"quantitative","scale":{"domain":[0.38,48.56],"range":[487,123],"nice":false,"zero":false},"axis":{"orient":"right","values":[2.5,5,7.5,10,12.5,15,17.5,20,22.5,25,27.5,30,32.5,35,37.5,40,42.5,45,47.5],"format":".1f","grid":true,"title":null,"labelPadding":2,"minExtent":33,"maxExtent":33}}}},
{"data":{"name":"m"},"mark":{"type":"line","color":"#34495e","strokeWidth":1,"clip":true},
 "encoding":{"x":{"field":"d","type":"temporal","title":null},
 "y":{"field":"rsi","type":"quantitative","scale":{"domain":[-4.5,103.6],"range":[123,0],"nice":false,"zero":false},"axis":null}}},
{"data":{"name":"tri"},"mark":{"type":"line","color":"#2323c8","strokeWidth":3.5,"strokeDash":[10,5],"clip":true},
 "encoding":{"x":{"field":"d","type":"temporal","title":null},"y":{"field":"v","type":"quantitative","scale":{"domain":[-4.5,103.6],"range":[123,0],"nice":false,"zero":false},"axis":null},"detail":{"field":"id"}}},
{"data":{"name":"labels"},"transform":[{"filter":"datum.panel == 'rsi'"}],"mark":{"type":"text","align":"left","baseline":"middle","fontSize":10.5,"color":"#000000"},
 "encoding":{"x":{"field":"d","type":"temporal","title":null},"y":{"field":"v","type":"quantitative","scale":{"domain":[-4.5,103.6],"range":[123,0],"nice":false,"zero":false},"axis":null},"text":{"field":"t"}}},
{"data":{"name":"m"},"mark":{"type":"rule","strokeWidth":3.2,"clip":true},
 "encoding":{"x":{"field":"d","type":"temporal","title":null},
 "y":{"field":"l","type":"quantitative","scale":{"domain":[0.38,48.56],"range":[487,123],"nice":false,"zero":false},"axis":null},
 "y2":{"field":"h"},
 "color":{"condition":{"test":"datum.c < datum.o","value":"#c4163c"},"value":"#000000"}}},
{"data":{"name":"m"},"mark":{"type":"line","color":"#000000","strokeWidth":1,"clip":true},
 "encoding":{"x":{"field":"d","type":"temporal","title":null},"y":{"field":"c","type":"quantitative","scale":{"domain":[0.38,48.56],"range":[487,123],"nice":false,"zero":false},"axis":null}}},
{"data":{"name":"m"},"mark":{"type":"line","color":"#c8193f","strokeWidth":1,"clip":true},
 "encoding":{"x":{"field":"d","type":"temporal","title":null},"y":{"field":"ma200","type":"quantitative","scale":{"domain":[0.38,48.56],"range":[487,123],"nice":false,"zero":false},"axis":null}}},
{"data":{"name":"m"},"mark":{"type":"line","color":"#16169a","strokeWidth":1,"clip":true},
 "encoding":{"x":{"field":"d","type":"temporal","title":null},"y":{"field":"ma50","type":"quantitative","scale":{"domain":[0.38,48.56],"range":[487,123],"nice":false,"zero":false},"axis":null}}},
{"data":{"name":"arc"},"mark":{"type":"line","color":"#1e1ec8","strokeWidth":6.5,"interpolate":"monotone","strokeCap":"round","clip":true},
 "encoding":{"x":{"field":"d","type":"temporal","title":null},"y":{"field":"v","type":"quantitative","scale":{"domain":[0.38,48.56],"range":[487,123],"nice":false,"zero":false},"axis":null}}},
{"data":{"name":"arrows"},"mark":{"type":"line","color":"#f29f1a","strokeWidth":4,"strokeDash":[11,6]},
 "encoding":{"x":{"field":"d","type":"temporal","title":null},"y":{"field":"v","type":"quantitative","scale":{"domain":[0.38,48.56],"range":[487,123],"nice":false,"zero":false},"axis":null},"detail":{"field":"id"}}},
{"data":{"name":"heads"},"transform":[{"filter":"datum.id == 1"}],"mark":{"type":"point","shape":"triangle-up","filled":true,"opacity":1,"size":300,"angle":231.4,"color":"#f29f1a"},
 "encoding":{"x":{"field":"d","type":"temporal","title":null},"y":{"field":"v","type":"quantitative","scale":{"domain":[0.38,48.56],"range":[487,123],"nice":false,"zero":false},"axis":null}}},
{"data":{"name":"heads"},"transform":[{"filter":"datum.id == 2"}],"mark":{"type":"point","shape":"triangle-up","filled":true,"opacity":1,"size":300,"angle":143.2,"color":"#f29f1a"},
 "encoding":{"x":{"field":"d","type":"temporal","title":null},"y":{"field":"v","type":"quantitative","scale":{"domain":[0.38,48.56],"range":[487,123],"nice":false,"zero":false},"axis":null}}},
{"data":{"name":"notes"},"transform":[{"filter":"datum.panel == 'rsi'"}],"mark":{"type":"text","align":"left","baseline":"alphabetic","font":"Liberation Sans","fontWeight":"bold","fontSize":26,"color":"#f29f1a"},
 "encoding":{"x":{"field":"d","type":"temporal","title":null},"y":{"field":"v","type":"quantitative","scale":{"domain":[-4.5,103.6],"range":[123,0],"nice":false,"zero":false},"axis":null},"text":{"field":"t"}}},
{"data":{"name":"notes"},"transform":[{"filter":"datum.panel == 'main'"}],"mark":{"type":"text","align":"left","baseline":"alphabetic","font":"Liberation Sans","fontWeight":"bold","fontSize":26,"color":"#f29f1a"},
 "encoding":{"x":{"field":"d","type":"temporal","title":null},"y":{"field":"v","type":"quantitative","scale":{"domain":[0.38,48.56],"range":[487,123],"nice":false,"zero":false},"axis":null},"text":{"field":"t"}}},
{"data":{"name":"labels"},"transform":[{"filter":"datum.panel == 'main'"}],"mark":{"type":"text","align":"left","baseline":"middle","fontSize":10},
 "encoding":{"x":{"field":"d","type":"temporal","title":null},"y":{"field":"v","type":"quantitative","scale":{"domain":[0.38,48.56],"range":[487,123],"nice":false,"zero":false},"axis":null},"text":{"field":"t"},
 "color":{"field":"k","type":"nominal","scale":{"domain":["price","ma50","ma200","vol"],"range":["#000000","#1b1b8f","#b3123d","#737b85"]},"legend":null}}}
],
"resolve":{"scale":{"y":"independent"}}
},
{
"width": 808,
"height": 124,
"layer": [
{"data":{"name":"m"},"mark":{"type":"area","color":"#8f8a4b","clip":true},
 "encoding":{"x":{"field":"d","type":"temporal","title":null,"scale":{"domain":[{"year":1999,"month":2,"date":13},{"year":2019,"month":6,"date":13}]},"axis":{"orient":"bottom","values":[{"year":1999,"month":7,"date":1},{"year":2000,"month":1,"date":1},{"year":2000,"month":7,"date":1},{"year":2001,"month":1,"date":1},{"year":2001,"month":7,"date":1},{"year":2002,"month":1,"date":1},{"year":2002,"month":7,"date":1},{"year":2003,"month":1,"date":1},{"year":2003,"month":7,"date":1},{"year":2004,"month":1,"date":1},{"year":2004,"month":7,"date":1},{"year":2005,"month":1,"date":1},{"year":2005,"month":7,"date":1},{"year":2006,"month":1,"date":1},{"year":2006,"month":7,"date":1},{"year":2007,"month":1,"date":1},{"year":2007,"month":7,"date":1},{"year":2008,"month":1,"date":1},{"year":2008,"month":7,"date":1},{"year":2009,"month":1,"date":1},{"year":2009,"month":7,"date":1},{"year":2010,"month":1,"date":1},{"year":2010,"month":7,"date":1},{"year":2011,"month":1,"date":1},{"year":2011,"month":7,"date":1},{"year":2012,"month":1,"date":1},{"year":2012,"month":7,"date":1},{"year":2013,"month":1,"date":1},{"year":2013,"month":7,"date":1},{"year":2014,"month":1,"date":1},{"year":2014,"month":7,"date":1},{"year":2015,"month":1,"date":1},{"year":2015,"month":7,"date":1},{"year":2016,"month":1,"date":1},{"year":2016,"month":7,"date":1},{"year":2017,"month":1,"date":1},{"year":2017,"month":7,"date":1},{"year":2018,"month":1,"date":1},{"year":2018,"month":7,"date":1},{"year":2019,"month":1,"date":1}],"grid":true,"labels":false,"title":null}},
 "y":{"field":"cmf","type":"quantitative","scale":{"domain":[0,0.556],"range":[71.74,0],"clamp":true,"nice":false,"zero":false},"axis":null},
 "y2":{"datum":0}}},
{"data":{"name":"m"},"mark":{"type":"area","color":"#9b4b6b","clip":true},
 "encoding":{"x":{"field":"d","type":"temporal","title":null},
 "y":{"field":"cmf","type":"quantitative","scale":{"domain":[-0.405,0],"range":[124,71.74],"clamp":true,"nice":false,"zero":false},"axis":null},
 "y2":{"datum":0}}},
{"data":{"name":"m"},"mark":{"type":"line","color":"#2b3a4f","strokeWidth":1.2,"clip":true},
 "encoding":{"x":{"field":"d","type":"temporal","title":null},
 "y":{"field":"cmf","type":"quantitative","scale":{"domain":[-0.405,0.556],"range":[124,0],"nice":false,"zero":false},"axis":{"orient":"right","values":[-0.4,-0.3,-0.2,-0.1,0,0.1,0.2,0.3,0.4,0.5],"format":".2f","grid":true,"title":null,"labelPadding":1,"labelFontSize":9,"minExtent":33,"maxExtent":33}}}},
{"data":{"name":"levels"},"transform":[{"filter":"datum.panel == 'cmf'"}],"mark":{"type":"rule","color":"#000000","strokeWidth":1},
 "encoding":{"y":{"field":"level","type":"quantitative","scale":{"domain":[-0.405,0.556],"range":[124,0],"nice":false,"zero":false},"axis":null}}},
{"data":{"name":"labels"},"transform":[{"filter":"datum.panel == 'cmf'"}],"mark":{"type":"text","align":"left","baseline":"middle","fontSize":10.5,"color":"#000000"},
 "encoding":{"x":{"field":"d","type":"temporal","title":null},"y":{"field":"v","type":"quantitative","scale":{"domain":[-0.405,0.556],"range":[124,0],"nice":false,"zero":false},"axis":null},"text":{"field":"t"}}},
{"data":{"name":"years"},"mark":{"type":"text","align":"center","baseline":"middle","fontSize":10,"color":"#e9eef5"},
 "encoding":{"x":{"field":"d","type":"temporal","title":null},"y":{"datum":0.609,"type":"quantitative","scale":{"domain":[-0.405,0.556],"range":[124,0],"nice":false,"zero":false},"axis":null},"text":{"field":"t"}}}
],
"resolve":{"scale":{"y":"independent"}}
}
]
}
